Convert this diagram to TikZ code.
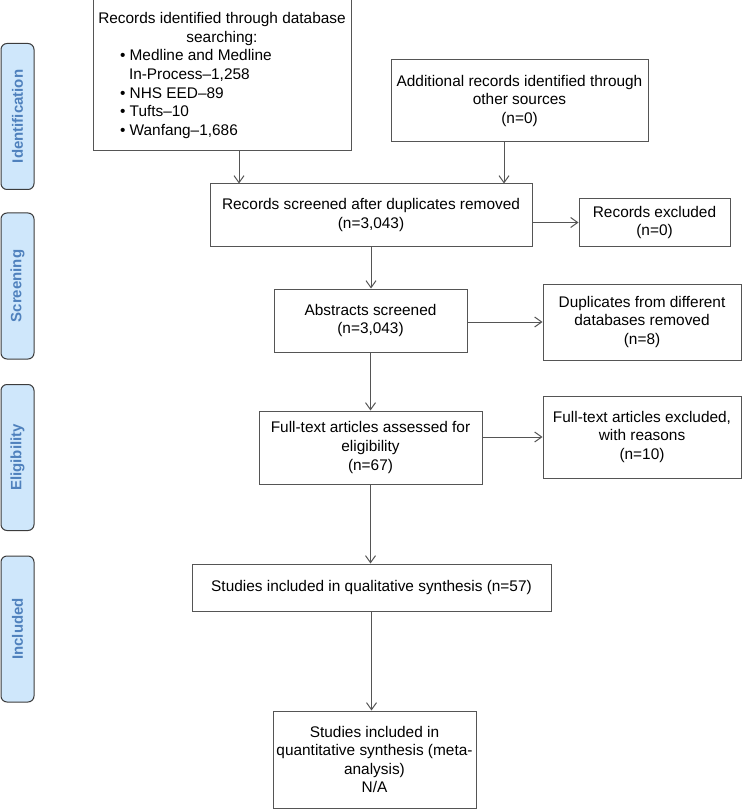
\documentclass[tikz,border=0pt]{standalone}
\usepackage{fontspec}
\setmainfont{Liberation Sans}
\usetikzlibrary{arrows.meta}
\definecolor{tabfill}{RGB}{207,231,251}
\definecolor{tabtext}{RGB}{79,129,189}
\definecolor{tabline}{RGB}{60,60,60}
\definecolor{boxline}{RGB}{85,85,85}
\tikzset{
  box/.style={draw=boxline, line width=1pt, inner sep=0pt, align=center, font=\fontsize{15.4}{18.6}\selectfont},
  phase/.style={draw=tabline, fill=tabfill, line width=1pt, rounded corners=6pt, rotate=90, minimum width=146pt, minimum height=33pt, inner sep=0pt, text=tabtext, font=\fontsize{15}{18}\selectfont\bfseries},
  flow/.style={draw=boxline, line width=1pt, -{Straight Barb[length=7pt,width=10pt]}}
}
\newcommand{\bul}[1]{\makebox[204pt][l]{\textbullet\ #1}}
\begin{document}
\begin{tikzpicture}[x=1pt,y=-1pt]
\useasboundingbox (0,0) rectangle (742,810);
\node[phase] (id) at (17.5,116.5) {Identification};
\node[phase] (scr) at (17.5,286) {Screening};
\node[phase] (elig) at (17.5,457.5) {Eligibility};
\node[phase] (incl) at (17.5,629) {Included};

\node[box, minimum width=258pt, minimum height=151pt] (db) at (222,75.5) {Records identified through database\\searching:\\\bul{Medline and Medline}\\\makebox[204pt][l]{\hspace{9pt}In-Process–1,258}\\\bul{NHS EED–89}\\\bul{Tufts–10}\\\bul{Wanfang–1,686}};
\node[box, minimum width=257pt, minimum height=82pt] (other) at (519.5,101) {Additional records identified through\\other sources\\(n=0)};
\node[box, minimum width=322pt, minimum height=62pt] (scrn) at (371,215) {Records screened after duplicates removed\\(n=3,043)};
\node[box, minimum width=151pt, minimum height=47pt] (excl) at (654.5,222.5) {Records excluded\\(n=0)};
\node[box, minimum width=193pt, minimum height=63pt] (abs) at (370.5,320.5) {Abstracts screened\\(n=3,043)};
\node[box, minimum width=198pt, minimum height=76pt] (dup) at (642,322) {Duplicates from different\\databases removed\\(n=8)};
\node[box, minimum width=223pt, minimum height=73pt] (ft) at (370.5,447.5) {Full-text articles assessed for\\eligibility\\(n=67)};
\node[box, minimum width=198pt, minimum height=82pt] (ftex) at (642,437) {Full-text articles excluded,\\with reasons\\(n=10)};
\node[box, minimum width=359pt, minimum height=47pt] (qual) at (371.5,587.5) {Studies included in qualitative synthesis (n=57)};
\node[box, minimum width=203pt, minimum height=97pt] (quant) at (374.5,759.5) {Studies included in\\quantitative synthesis (meta-\\analysis)\\N/A};

\draw[flow] ([xshift=17pt]db.south) -- ([xshift=17pt]db.south |- scrn.north);
\draw[flow] ([xshift=-15.5pt]other.south) -- ([xshift=-15.5pt]other.south |- scrn.north);
\draw[flow] (scrn.east |- excl.west) -- (excl.west);
\draw[flow] (scrn.south) -- (scrn.south |- abs.north);
\draw[flow] (abs.east |- dup.west) -- (dup.west);
\draw[flow] (abs.south) -- (abs.south |- ft.north);
\draw[flow] (ft.east |- ftex.west) -- (ftex.west);
\draw[flow] (ft.south) -- (ft.south |- qual.north);
\draw[flow] (qual.south) -- (qual.south |- quant.north);
\end{tikzpicture}
\end{document}
